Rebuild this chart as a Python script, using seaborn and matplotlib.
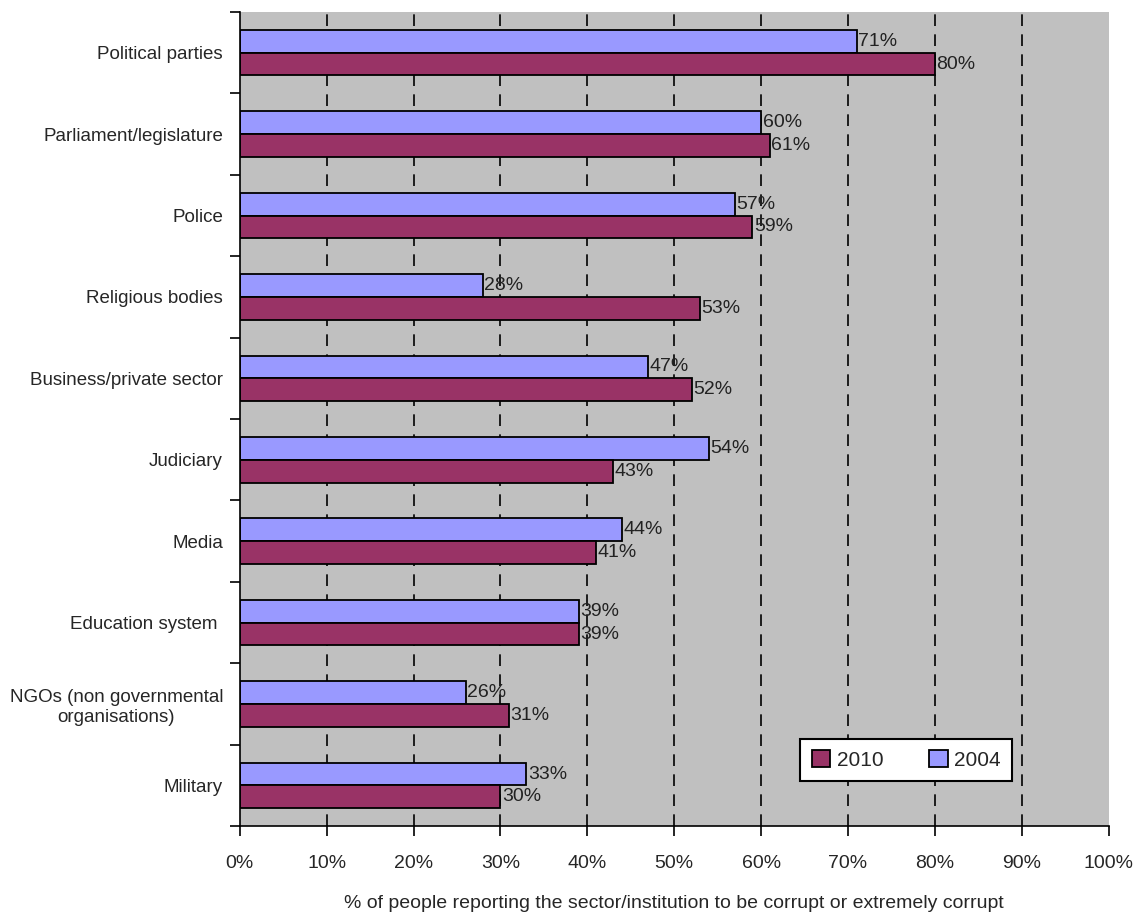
import pandas as pd
import seaborn as sns
import matplotlib.pyplot as plt
from matplotlib.ticker import FixedLocator

# data
sectors = ['Political parties', 'Parliament/legislature', 'Police', 'Religious bodies',
           'Business/private sector', 'Judiciary', 'Media', 'Education system ',
           'NGOs (non governmental\norganisations)', 'Military']
values_2004 = [71, 60, 57, 28, 47, 54, 44, 39, 26, 33]
values_2010 = [80, 61, 59, 53, 52, 43, 41, 39, 31, 30]
years = ['2004', '2010']
colors = {'2004': '#9999FF', '2010': '#993366'}
xticks = [0, 10, 20, 30, 40, 50, 60, 70, 80, 90, 100]

df = pd.DataFrame({
    'sector': sectors * 2,
    'value': values_2004 + values_2010,
    'year': ['2004'] * len(sectors) + ['2010'] * len(sectors),
})

sns.set_style('white')
plt.rcParams['font.family'] = ['Liberation Sans', 'DejaVu Sans']

fig = plt.figure(figsize=(11.36, 9.18), dpi=100)
ax = fig.add_axes([0.211, 0.100, 0.765, 0.887])
ax.set_facecolor('#C0C0C0')

sns.barplot(data=df, x='value', y='sector', hue='year', hue_order=years,
            palette=colors, saturation=1, orient='h', width=0.56, gap=0,
            edgecolor='black', linewidth=1.3, ax=ax, legend=True)

for cont in ax.containers:
    ax.bar_label(cont, fmt='{:.0f}%', padding=1, fontsize=14, color='#222222')

for x in xticks[1:-1]:
    ax.axvline(x, color='black', linestyle=(0, (7, 5)), linewidth=1.2, zorder=0.5)

ax.set_xlim(0, 100)
ax.set_ylim(len(sectors) - 0.5, -0.5)
ax.set_xticks(xticks)
ax.set_xticklabels([f'{t}%' for t in xticks], fontsize=14)
ax.tick_params(axis='x', bottom=True, direction='out', length=7, width=1.2, color='black', pad=14)
ax.set_yticks(range(len(sectors)))
ax.set_yticklabels(sectors, fontsize=13.5, multialignment='center')
ax.tick_params(axis='y', which='major', left=True, length=0, pad=12)
ax.yaxis.set_minor_locator(FixedLocator([i - 0.5 for i in range(len(sectors) + 1)]))
ax.tick_params(axis='y', which='minor', left=True, direction='out', length=7, width=1.2, color='black')

for s in ['top', 'right']:
    ax.spines[s].set_visible(False)
for s in ['left', 'bottom']:
    ax.spines[s].set_color('black')
    ax.spines[s].set_linewidth(1.2)

ax.set_ylabel('')
ax.set_xlabel('% of people reporting the sector/institution to be corrupt or extremely corrupt',
              fontsize=14, labelpad=16)

handles, labels = ax.get_legend_handles_labels()
order = [labels.index('2010'), labels.index('2004')]
leg = ax.legend([handles[i] for i in order], [labels[i] for i in order],
                ncol=2, loc='lower right', bbox_to_anchor=(0.889, 0.055),
                borderaxespad=0, fontsize=15, frameon=True, fancybox=False,
                edgecolor='black', handlelength=0.9, handleheight=0.9,
                columnspacing=2.2, handletextpad=0.3, borderpad=0.55)
leg.get_frame().set_linewidth(1.5)
leg.get_frame().set_facecolor('white')
leg.get_frame().set_alpha(1)

fig.savefig('out.png', dpi=100)
